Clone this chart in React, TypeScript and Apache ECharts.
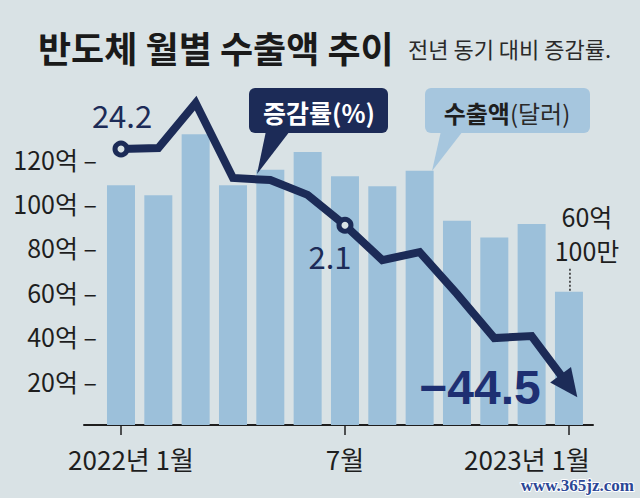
import React, { useEffect, useRef } from 'react';
import * as echarts from 'echarts';

// ---- data ----
const months = ['2022년 1월', '2월', '3월', '4월', '5월', '6월', '7월', '8월', '9월', '10월', '11월', '12월', '2023년 1월'];
const exportValues = [108, 103.5, 131, 108, 115, 123, 112, 107.5, 114.5, 92, 84.5, 90.5, 60.01]; // 억 달러
const growthRates = [24.2, 24.5, 37.5, 15.8, 15.2, 10.9, 2.1, -8.0, -5.7, -17.8, -30.6, -30.0, -44.5]; // %
const yTickValues = [20, 40, 60, 80, 100, 120];
const xTickIndexes = [0, 6, 12];
const markedIndexes = [0, 6];
const lastBarLabel = '60억\n100만';
const titleText = '반도체 월별 수출액 추이';
const subtitleText = '전년 동기 대비 증감률.';
const rateLegend = '증감률(%)';
const exportLegendBold = '수출액';
const exportLegendRegular = '(달러)';
const watermark = 'www.365jz.com';

// ---- styles ----
const NAVY = '#1c2b57';
const BAR = '#9cc0da';
const BG = '#d9e2e5';
const INK = '#1e1e1e';
const CALLOUT_LIGHT = '#a6c6de';
const NARROW = '"Liberation Sans Narrow", "Noto Sans CJK KR", sans-serif';
const KR = '"Noto Sans CJK KR", "Noto Sans", sans-serif';
const labelOffsets: Record<number, [number, number]> = { 0: [1, -34], 6: [-15, 30] };

const fmtRate = (v: number) => (v < 0 ? '\u2212' + Math.abs(v) : String(v));

export default function App() {
  const ref = useRef<HTMLDivElement>(null);
  useEffect(() => {
    if (!ref.current) return;
    const chart = echarts.init(ref.current, undefined, { renderer: 'svg' });
    const last = growthRates.length - 1;

    const option: any = {
      animation: false,
      backgroundColor: BG,
      grid: { left: 84, right: 47, top: 92, bottom: 73 },
      xAxis: {
        type: 'value',
        min: -0.991,
        max: 12.644,
        axisLine: { show: true, onZero: false, lineStyle: { color: INK, width: 2 } },
        axisTick: { show: true, customValues: xTickIndexes, length: 10, lineStyle: { color: INK, width: 1.5 } },
        axisLabel: {
          customValues: xTickIndexes,
          formatter: (v: number) => {
            const i = Math.round(v);
            if (i === 0) return `{first|${months[i]}}`;
            if (i === last) return `{last|${months[i]}}`;
            return `{mid|${months[i]}}`;
          },
          rich: {
            first: { fontFamily: NARROW, fontSize: 26, color: INK, padding: [0, 0, 0, 20] },
            mid: { fontFamily: NARROW, fontSize: 26, color: INK },
            last: { fontFamily: NARROW, fontSize: 26, color: INK, padding: [0, 84, 0, 0] },
          },
          fontFamily: NARROW,
          fontSize: 26,
          color: INK,
          margin: 20,
        },
        splitLine: { show: false },
      },
      yAxis: [
        {
          type: 'value',
          min: 0,
          max: 150,
          axisLine: { show: false },
          splitLine: { show: false },
          axisTick: { show: false },
          axisLabel: {
            customValues: yTickValues,
            formatter: (v: number) => `${v}억 \u2013`,
            fontFamily: NARROW,
            fontSize: 25,
            color: INK,
            margin: -13,
          },
        },
        { type: 'value', min: -55.8, max: 40.72, show: false },
      ],
      series: [
        {
          id: 'exports',
          type: 'bar',
          xAxisIndex: 0,
          yAxisIndex: 0,
          barWidth: 28,
          itemStyle: { color: BAR },
          data: exportValues.map((v, i) =>
            i === exportValues.length - 1
              ? {
                  value: [i, v],
                  label: {
                    show: true,
                    position: 'top',
                    distance: 25,
                    offset: [18, 0],
                    formatter: lastBarLabel,
                    fontFamily: NARROW,
                    fontSize: 25,
                    lineHeight: 34,
                    color: INK,
                    align: 'center',
                  },
                }
              : [i, v]
          ),
          z: 1,
        },
        {
          id: 'rate',
          type: 'line',
          xAxisIndex: 0,
          yAxisIndex: 1,
          symbol: 'none',
          clip: false,
          lineStyle: { color: NAVY, width: 8, join: 'miter', miterLimit: 10, cap: 'butt' },
          data: growthRates.map((v, i) => [i, v]),
          z: 3,
        },
        {
          id: 'marks',
          type: 'scatter',
          xAxisIndex: 0,
          yAxisIndex: 1,
          symbol: 'circle',
          symbolSize: 12,
          itemStyle: { color: BG, borderColor: NAVY, borderWidth: 5, opacity: 1 },
          label: {
            show: true,
            position: 'inside',
            formatter: (p: any) => fmtRate(p.value[1]),
            fontFamily: NARROW,
            fontSize: 31,
            color: NAVY,
          },
          data: markedIndexes.map((i) => ({
            value: [i, growthRates[i]],
            label: { offset: labelOffsets[i] },
          })),
          z: 4,
        },
        {
          id: 'arrow',
          type: 'scatter',
          xAxisIndex: 0,
          yAxisIndex: 1,
          symbol: 'triangle',
          symbolSize: [26, 28],
          symbolRotate: -143,
          itemStyle: { color: NAVY, opacity: 1 },
          label: {
            show: true,
            position: 'inside',
            offset: [-89, 1],
            formatter: (p: any) => fmtRate(p.value[1]),
            fontFamily: '"Liberation Sans", "Noto Sans", sans-serif',
            fontWeight: 'bold',
            fontSize: 48,
            color: '#1e2f72',
          },
          data: [[last, growthRates[last]]],
          z: 5,
        },
      ],
      graphic: [
        {
          type: 'text',
          x: 38,
          y: 47,
          style: { text: titleText, x: 0, y: 0, verticalAlign: 'middle', fontFamily: KR, fontWeight: 'bold', fontSize: 36, fill: '#1a1a1a' },
        },
        {
          type: 'text',
          x: 408,
          y: 48,
          style: { text: subtitleText, x: 0, y: 0, verticalAlign: 'middle', fontFamily: KR, fontSize: 22, fill: '#2a2a2a' },
        },
        { type: 'rect', shape: { x: 249, y: 88, width: 139, height: 45, r: 6 }, style: { fill: NAVY }, z: 10 },
        { type: 'polygon', shape: { points: [[266, 131], [290, 131], [257, 174]] }, style: { fill: NAVY }, z: 10 },
        {
          type: 'text',
          x: 319,
          y: 112,
          z: 11,
          style: { text: rateLegend, x: 0, y: 0, align: 'center', verticalAlign: 'middle', fontFamily: KR, fontWeight: 'bold', fontSize: 25, fill: '#ffffff' },
        },
        { type: 'rect', shape: { x: 425, y: 88, width: 165, height: 45, r: 6 }, style: { fill: CALLOUT_LIGHT }, z: 10 },
        { type: 'polygon', shape: { points: [[441, 131], [463, 131], [432, 171]] }, style: { fill: CALLOUT_LIGHT }, z: 10 },
        {
          type: 'text',
          x: 507,
          y: 112,
          z: 11,
          style: {
            text: `{b|${exportLegendBold}}{r|${exportLegendRegular}}`,
            x: 0,
            y: 0,
            align: 'center',
            verticalAlign: 'middle',
            rich: {
              b: { fontFamily: KR, fontWeight: 'bold', fontSize: 24, fill: '#1e1e1e', color: '#1e1e1e' },
              r: { fontFamily: KR, fontSize: 24, fill: '#2a2a2a', color: '#2a2a2a' },
            },
          },
        },
        {
          type: 'text',
          x: 634,
          y: 485,
          style: {
            text: watermark,
            x: 0,
            y: 0,
            align: 'right',
            verticalAlign: 'middle',
            fontFamily: '"Liberation Serif", "DejaVu Serif", serif',
            fontWeight: 'bold',
            fontSize: 17,
            fill: '#2c4796',
            stroke: '#ffffff',
            lineWidth: 2,
          },
        },
      ],
    };
    chart.setOption(option);

    // derive arrow direction and dotted leader from the scales
    const p1 = chart.convertToPixel({ seriesId: 'rate' }, [last - 1, growthRates[last - 1]]) as number[];
    const p2 = chart.convertToPixel({ seriesId: 'rate' }, [last, growthRates[last]]) as number[];
    const angle = (Math.atan2(-(p2[1] - p1[1]), p2[0] - p1[0]) * 180) / Math.PI - 90;
    const pb = chart.convertToPixel({ seriesId: 'exports' }, [last, exportValues[last]]) as number[];
    chart.setOption({
      series: [{ id: 'arrow', symbolRotate: angle }],
      graphic: [
        {
          id: 'leader',
          type: 'line',
          shape: { x1: pb[0] + 1, y1: pb[1] - 23, x2: pb[0] + 1, y2: pb[1] - 1 },
          style: { stroke: '#333333', lineWidth: 1.6, lineDash: [2, 2] },
          z: 12,
        },
      ],
    });

    return () => chart.dispose();
  }, []);
  return <div ref={ref} style={{ position: 'absolute', left: 0, top: 0, width: 640, height: 498 }} />;
}
